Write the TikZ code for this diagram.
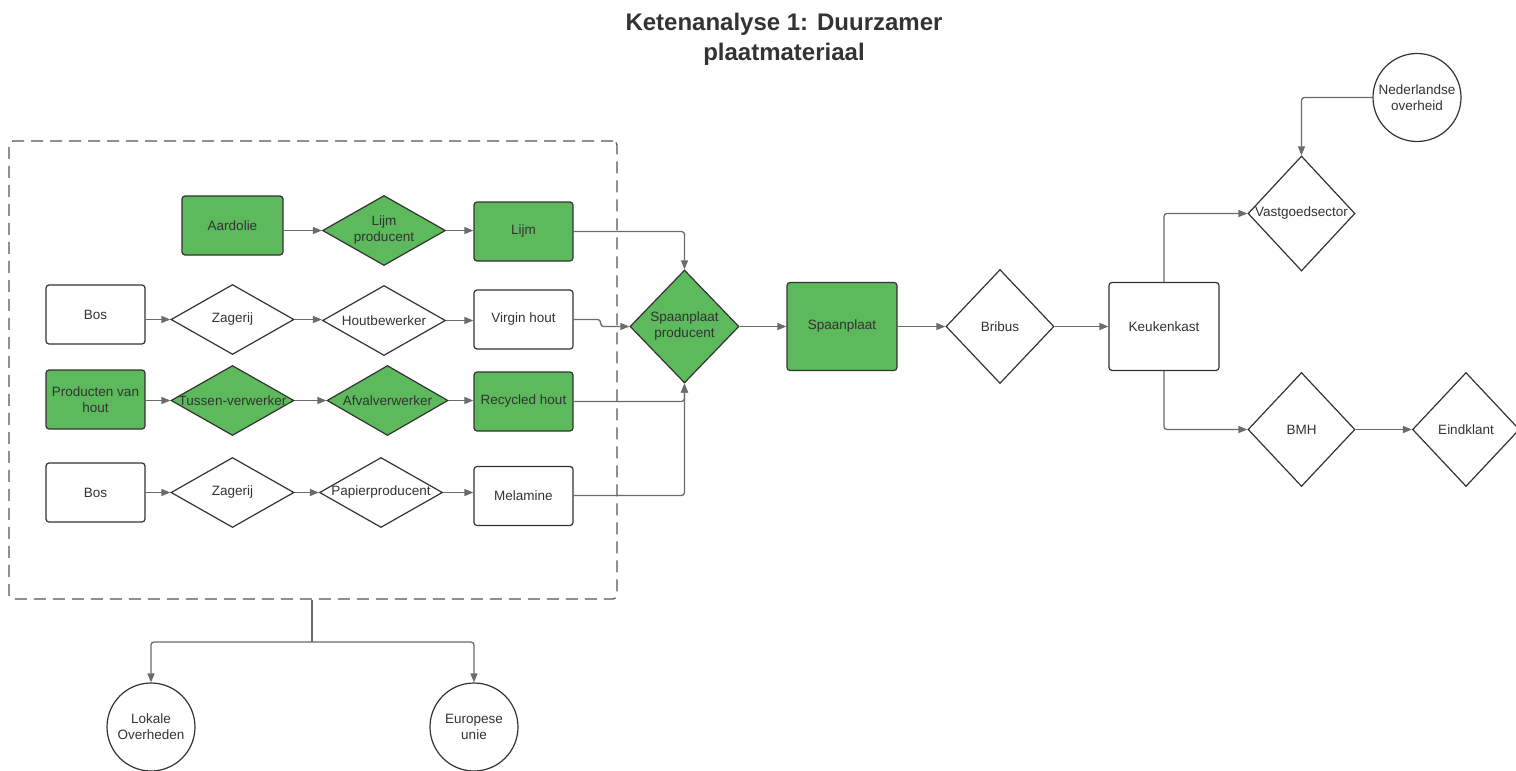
\documentclass[tikz,border=0pt]{standalone}
\usepackage{fontspec}
\setmainfont{Liberation Sans}
\usetikzlibrary{shapes.geometric,arrows.meta}
\definecolor{grn}{RGB}{92,185,92}
\definecolor{bordc}{HTML}{333333}
\definecolor{linec}{HTML}{6B6B6B}
\definecolor{txtc}{HTML}{333333}
\definecolor{dashc}{HTML}{555555}
\begin{document}
\begin{tikzpicture}[x=1pt,y=-1pt,
  every node/.style={font=\fontsize{13.5}{16}\selectfont, text=txtc},
  box/.style={draw=bordc, line width=1.2pt, rounded corners=3pt, minimum width=99pt, minimum height=59pt, inner sep=0pt, align=center},
  bigbox/.style={box, minimum width=110pt, minimum height=88pt},
  dia/.style={diamond, draw=bordc, line width=1.2pt, inner sep=0pt, minimum width=123pt, minimum height=70pt},
  bigdia/.style={dia, minimum width=108pt, minimum height=114pt},
  dlab/.style={label={[align=center, inner sep=0pt]center:#1}},
  circ/.style={circle, draw=bordc, line width=1.2pt, minimum size=88pt, inner sep=0pt, align=center},
  gfill/.style={fill=grn},
  wfill/.style={fill=white},
  arr/.style={draw=linec, line width=1.3pt, rounded corners=3pt, -{Triangle[length=9pt,width=7pt]}},
  ln/.style={draw=linec, line width=1.3pt, rounded corners=3pt},
  grpbox/.style={draw=dashc, line width=1.3pt, dash pattern=on 12pt off 7pt, rounded corners=4pt, inner sep=0pt, minimum width=608pt, minimum height=458pt}
]
\fill[white] (0,0) rectangle (1516,771);
\useasboundingbox (0,0) rectangle (1516,771);

% title
\node[font=\fontsize{24}{30}\selectfont\bfseries, align=center, anchor=north, inner sep=0pt] (title) at (784,13) {Ketenanalyse 1: Duurzamer\\plaatmateriaal};

% dashed group
\node[grpbox] (grp) at (313,370) {};

% row 1
\node[box, gfill, minimum width=101pt] (aard) at (232.5,225.5) {Aardolie};
\node[dia, gfill, dlab={Lijm\\producent}] (lijmp) at (384,230.5) {};
\node[box, gfill] (lijm) at (523.5,231.5) {Lijm};

% row 2
\node[box, wfill] (bos1) at (95.5,314.5) {Bos};
\node[dia, wfill, dlab={Zagerij}] (zag1) at (232.5,319.5) {};
\node[dia, wfill, dlab={Houtbewerker}] (hout) at (384,320.5) {};
\node[box, wfill] (virgin) at (523.5,319.5) {Virgin hout};

% row 3
\node[box, gfill] (prod) at (95.5,399.5) {Producten van\\hout};
\node[dia, gfill, dlab={Tussen-verwerker}] (tussen) at (232.5,400.5) {};
\node[dia, gfill, minimum width=121pt, dlab={Afvalverwerker}] (afval) at (387.5,400.5) {};
\node[box, gfill] (recyc) at (523.5,401.5) {Recycled hout};

% row 4
\node[box, wfill] (bos2) at (95.5,492.5) {Bos};
\node[dia, wfill, dlab={Zagerij}] (zag2) at (232.5,492.5) {};
\node[dia, wfill, dlab={Papierproducent}] (papier) at (381,492.5) {};
\node[box, wfill] (melam) at (523.5,496) {Melamine};

% main chain
\node[bigdia, gfill, minimum width=109pt, minimum height=113pt, dlab={Spaanplaat\\producent}] (spp) at (684.5,326.5) {};
\node[bigbox, gfill] (spaan) at (842,326.5) {Spaanplaat};
\node[bigdia, wfill, dlab={Bribus}] (bribus) at (1000,326.5) {};
\node[bigbox, wfill] (keuken) at (1164,326.5) {Keukenkast};
\node[bigdia, wfill, minimum width=107pt, minimum height=115pt, dlab={Vastgoedsector}] (vast) at (1301.5,213.5) {};
\node[bigdia, wfill, minimum width=107pt, dlab={BMH}] (bmh) at (1301.5,429.5) {};
\node[bigdia, wfill, minimum width=107pt, dlab={Eindklant}] (eind) at (1466,429.5) {};
\node[circ] (ned) at (1417,97.5) {Nederlandse\\overheid};

% bottom circles
\node[circ] (lokale) at (151,727) {Lokale\\Overheden};
\node[circ] (europ) at (474,727) {Europese\\unie};

% connectors inside rows
\draw[arr] (aard.east |- lijmp.west) -- (lijmp.west);
\draw[arr] (lijmp.east) -- (lijmp.east -| lijm.west);
\draw[arr] (bos1.east |- zag1.west) -- (zag1.west);
\draw[arr] (zag1.east) -- (zag1.east -| hout.west);
\draw[arr] (hout.east) -- (hout.east -| virgin.west);
\draw[arr] (prod.east |- tussen.west) -- (tussen.west);
\draw[arr] (tussen.east) -- (tussen.east -| afval.west);
\draw[arr] (afval.east) -- (afval.east -| recyc.west);
\draw[arr] (bos2.east |- zag2.west) -- (zag2.west);
\draw[arr] (zag2.east) -- (zag2.east -| papier.west);
\draw[arr] (papier.east) -- (papier.east -| melam.west);

% into Spaanplaat producent
\draw[arr] (virgin.east) -- ++(27,0) |- (spp.west);
\draw[arr] (lijm.east) -| (spp.north);
\draw[arr] (recyc.east) -| (spp.south);
\draw[arr] (melam.east |- 0,495.5) -| (spp.south);

% main chain
\draw[arr] (spp.east) -- (spp.east -| spaan.west);
\draw[arr] (spaan.east) -- (spaan.east -| bribus.west);
\draw[arr] (bribus.east) -- (bribus.east -| keuken.west);
\draw[arr] (keuken.north) |- (vast.west);
\draw[arr] (keuken.south) |- (bmh.west);
\draw[arr] (bmh.east) -- (eind.west);
\draw[arr] (ned.west) -| (vast.north);

% group to governments
\coordinate (split) at (312,642);
\draw[ln] (grp.south -| split) -- (split);
\draw[arr] (split) -| (lokale.north);
\draw[arr] (split) -| (europ.north);
\end{tikzpicture}
\end{document}
